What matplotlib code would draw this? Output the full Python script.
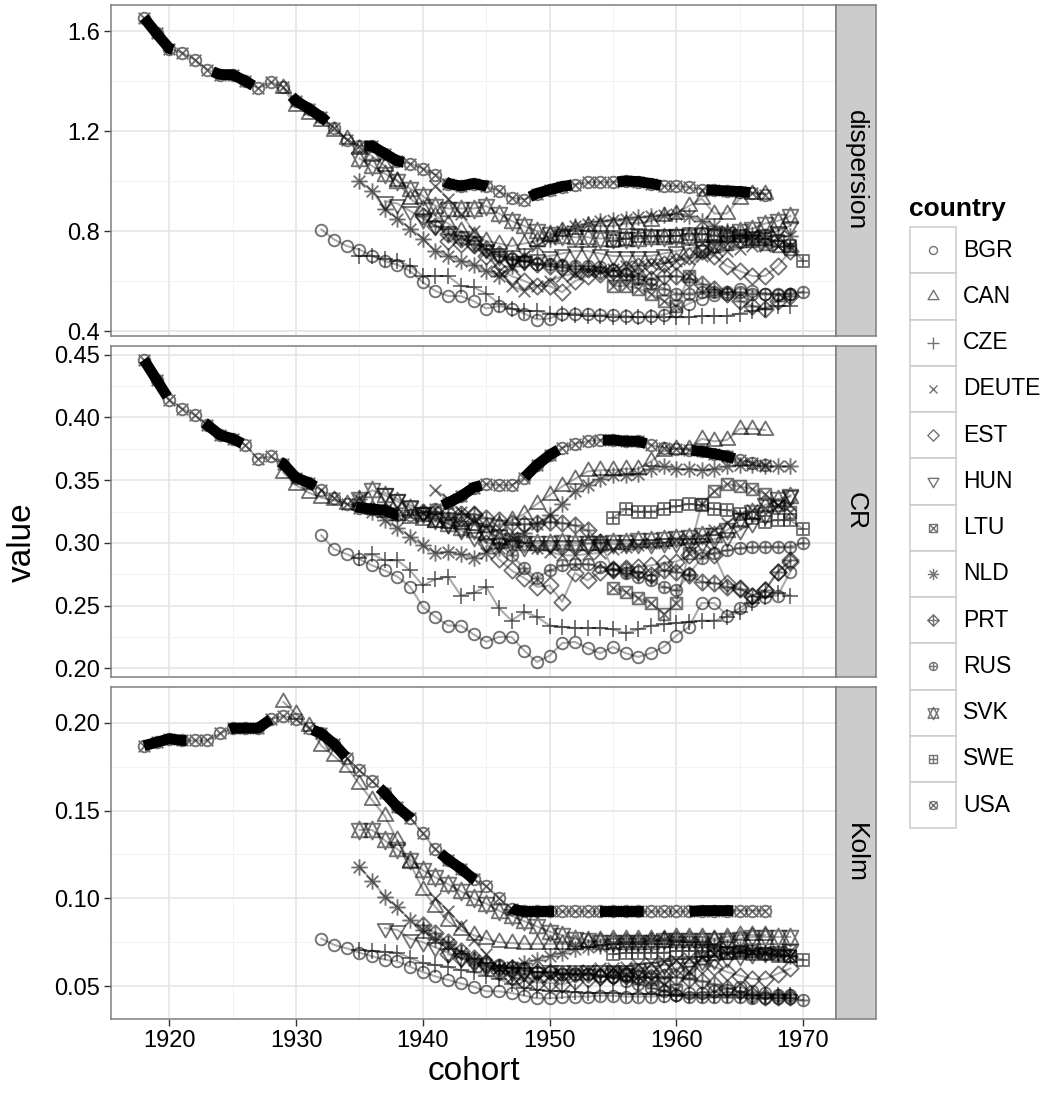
import numpy as np
import matplotlib
matplotlib.use('Agg')
import matplotlib.pyplot as plt
from matplotlib.path import Path
from matplotlib.markers import MarkerStyle
from matplotlib.patches import Rectangle

plt.rcParams['font.family'] = ['Liberation Sans', 'DejaVu Sans']
plt.rcParams['lines.scale_dashes'] = False

# ---- data ----
countries = ['BGR', 'CAN', 'CZE', 'DEUTE', 'EST', 'HUN', 'LTU',
             'NLD', 'PRT', 'RUS', 'SVK', 'SWE', 'USA']
first_cohort = [1932, 1929, 1935, 1941, 1942, 1937, 1955,
                1935, 1940, 1946, 1935, 1955, 1918]

dispersion = {
    'BGR': [.806, .766, .740, .726, .700, .680, .665, .640, .595, .560,
            .540, .540, .520, .490, .500, .490, .470, .446, .450, .470,
            .470, .468, .465, .465, .460, .455, .460, .465, .480, .510,
            .530, .545, .550, .570, .560, .550, .545, .550],
    'CAN': [1.37, 1.30, 1.27, 1.24, 1.20, 1.17, 1.13, 1.10, 1.06, 1.00,
            .93, .89, .86, .83, .80, .78, .76, .75, .74, .75,
            .76, .78, .80, .81, .82, .82, .82, .83, .83, .84,
            .86, .87, .90, .93, .87, .87, .93, .95, .95],
    'CZE': [.70, .70, .69, .68, .66, .62, .62, .62, .58, .575,
            .55, .51, .49, .48, .48, .47, .47, .465, .46, .46,
            .455, .455, .455, .455, .455, .455, .455, .46, .46, .46,
            .47, .48, .49, .50, .50],
    'DEUTE': [.98, .93, .87, .80, .72, .64, .58, .56, .58, .60,
              .62, .63, .64, .64, .65, .66, .66, .67, .67, .68,
              .69, .70, .71, .72, .73, .74, .74, .74, .74],
    'EST': [.76, .75, .745,
            .70, .65, .62, .60, .58, .58, .555, .60, .62, .63,
            .64, .65, .66, .66, .67, .68, .70, .72, .70, .66,
            .64, .62, .62, .66, .72],
    'HUN': [.92, .91, .88, .85, .82, .80, .78, .76, .73, .70,
            .68, .68, .69, .70, .71, .72, .72, .71, .70, .70,
            .70, .70, .71, .72, .73, .74, .75, .76, .77, .78,
            .79, .80, .82],
    'LTU': [.58, .58, .57, .55, .52, .50, .62, .72, .74, .75, .76, .76, .75, .74, .73],
    'NLD': [1.00, .96, .89, .85, .81, .77, .72, .70, .68, .665,
            .64, .62, .66, .70, .74, .77, .80, .82, .83, .84,
            .845, .85, .855, .86, .865, .87, .86, .84, .82, .80,
            .79, .785, .78, .78, .78],
    'PRT': [.86, .82, .79, .77, .75, .73, .71, .69, .68, .67,
            .66, .655, .65, .65, .64, .62, .62, .62, .61, .62,
            .62, .61, .59, .57, .55, .52, .50, .49, .52, .54],
    'RUS': [.70, .69, .68, .67, .67, .665, .66, .66, .655, .645,
            .63, .61, .59, .57, .55, .55, .555, .555, .555, .555,
            .55, .55, .55, .55, .556],
    'SVK': [1.09, 1.06, 1.03, 1.00, .97, .94, .90, .89, .89, .89,
            .90, .87, .84, .82, .80, .79, .78, .775, .775, .77,
            .77, .77, .77, .775, .775, .78, .78, .785, .785, .79,
            .80, .81, .83, .84, .86],
    'SWE': [.76, .77, .78, .78, .78, .78, .79, .79, .78, .78, .78, .77, .77, .76, .74, .68],
    'USA': [1.653, 1.59, 1.53, 1.513, 1.486, 1.446, 1.426, 1.425, 1.40, 1.37,
            1.396, 1.376, 1.32, 1.29, 1.255, 1.214, 1.166, 1.14, 1.14, 1.11,
            1.08, 1.07, 1.05, 1.026, .99, .98, .99, .98, .96, .933,
            .926, .95, .965, .978, .986, .995, .995, .995, 1.0, .998,
            .99, .98, .98, .975, .966, .963, .96, .958, .953, .946],
}

cr = {
    'BGR': [.306, .295, .291, .287, .282, .278, .273, .265, .249, .241,
            .234, .234, .227, .221, .225, .225, .214, .205, .210, .220,
            .221, .216, .212, .217, .212, .209, .212, .217, .226, .233,
            .252, .252, .242, .248, .254, .257, .258, .277],
    'CAN': [.356, .346, .340, .336, .334, .331, .330, .327, .325, .322,
            .320, .318, .317, .316, .315, .314, .313, .314, .318, .323,
            .331, .338, .345, .351, .357, .358, .358, .359, .359, .365,
            .373, .375, .375, .383, .381, .382, .391, .391, .390],
    'CZE': [.288, .291, .286, .286, .278, .266, .271, .273, .258, .260,
            .265, .248, .238, .245, .241, .234, .233, .232, .232, .232,
            .231, .228, .231, .234, .235, .236, .237, .238, .238, .241,
            .245, .252, .257, .260, .258],
    'DEUTE': [.342, .335, .325, .318, .312, .308, .305, .300, .296, .293,
              .290, .290, .291, .292, .295, .297, .298, .300, .300, .302,
              .303, .305, .310, .316, .322, .326, .328, .330, .330],
    'EST': [.318, .320, .322,
            .300, .287, .278, .272, .265, .266, .253, .276, .270, .277,
            .279, .280, .281, .282, .284, .285, .290, .295, .290, .268,
            .264, .258, .262, .277, .285],
    'HUN': [.340, .335, .330, .325, .320, .315, .310, .305, .300, .300,
            .298, .297, .298, .298, .298, .298, .299, .299, .299, .299,
            .299, .299, .300, .300, .300, .300, .303, .305, .310, .316,
            .322, .330, .338],
    'LTU': [.264, .261, .256, .252, .243, .252, .292, .331, .341, .347,
            .345, .343, .339, .330, .325],
    'NLD': [.335, .325, .318, .312, .305, .298, .292, .293, .291, .288,
            .292, .296, .302, .308, .315, .322, .331, .341, .346, .351,
            .354, .354, .355, .359, .361, .359, .359, .358, .359, .361,
            .362, .362, .361, .361, .361],
    'PRT': [.325, .325, .324, .323, .323, .320, .318, .316, .315, .316,
            .317, .316, .314, .310, .301, .278, .278, .277, .274, .278,
            .277, .274, .269, .268, .265, .263, .258, .262, .277, .286],
    'RUS': [.300, .290, .280, .272, .278, .282, .283, .283, .281, .279,
            .276, .273, .270, .265, .262, .275, .288, .292, .294, .296,
            .297, .297, .297, .297, .300],
    'SVK': [.335, .342, .338, .333, .328, .323, .318, .315, .312, .310,
            .308, .305, .302, .300, .300, .300, .301, .300, .300, .300,
            .301, .301, .302, .302, .303, .304, .305, .306, .306, .310,
            .318, .325, .330, .335, .337],
    'SWE': [.320, .327, .325, .325, .327, .329, .331, .330, .327, .326,
            .323, .320, .317, .318, .318, .311],
    'USA': [.446, .430, .414, .407, .402, .394, .386, .383, .378, .367,
            .369, .363, .352, .348, .342, .336, .331, .328, .327, .326,
            .322, .322, .324, .327, .332, .337, .344, .347, .346, .346,
            .352, .362, .370, .376, .379, .381, .382, .382, .381, .381,
            .378, .376, .375, .374, .373, .371, .369, .366, .364, .362],
}

kolm = {
    'BGR': [.077, .0735, .0715, .069, .067, .065, .064, .061, .058, .0555,
            .0535, .0515, .0497, .047, .047, .046, .0445, .043, .043, .0435,
            .044, .044, .0445, .0445, .044, .044, .044, .0445, .045, .046,
            .046, .047, .048, .0497, .047, .046, .045, .045],
    'CAN': [.212, .205, .198, .187, .181, .175, .165, .156, .147, .133,
            .120, .105, .095, .087, .082, .079, .077, .075, .0745, .074,
            .074, .074, .074, .074, .075, .076, .077, .077, .077, .077,
            .077, .078, .078, .078, .077, .078, .079, .079, .079],
    'CZE': [.0705, .070, .0695, .069, .066, .063, .062, .061, .059, .058,
            .056, .054, .051, .049, .048, .047, .047, .0465, .046, .046,
            .046, .0455, .0455, .0455, .045, .045, .045, .045, .045, .045,
            .045, .045, .045, .045, .045],
    'DEUTE': [.100, .093, .085, .076, .068, .060, .055, .054, .055, .056,
              .057, .058, .059, .060, .060, .061, .062, .063, .064, .065,
              .066, .067, .068, .068, .069, .069, .070, .070, .070],
    'EST': [.068, .066, .064,
            .062, .058, .055, .053, .052, .052, .051, .053, .054, .055,
            .056, .057, .058, .058, .059, .060, .061, .062, .061, .058,
            .056, .054, .054, .057, .060],
    'HUN': [.083, .082, .077, .075, .072, .069, .066, .063, .061, .059,
            .058, .058, .058, .059, .059, .059, .059, .059, .059, .059,
            .060, .061, .062, .063, .063, .064, .065, .066, .067, .068,
            .069, .070, .071],
    'LTU': [.058, .057, .056, .054, .051, .048, .058, .066, .068, .069,
            .070, .070, .069, .068, .067],
    'NLD': [.118, .110, .101, .095, .0877, .082, .077, .074, .069, .065,
            .062, .060, .061, .063, .065, .067, .069, .071, .072, .073,
            .074, .075, .075, .076, .076, .076, .075, .074, .073, .072,
            .071, .070, .069, .068, .067],
    'PRT': [.085, .080, .075, .070, .066, .063, .061, .060, .059, .058,
            .058, .057, .057, .057, .056, .056, .056, .055, .055, .055,
            .055, .054, .053, .051, .049, .047, .045, .044, .044, .044],
    'RUS': [.062, .061, .060, .058, .058, .057, .057, .057, .056, .055,
            .053, .051, .049, .047, .045, .044, .044, .044, .0435, .0435,
            .043, .043, .043, .043, .042],
    'SVK': [.139, .139, .133, .128, .122, .116, .112, .108, .104, .100,
            .097, .093, .090, .087, .084, .081, .079, .077, .076, .075,
            .075, .075, .075, .075, .076, .076, .076, .076, .076, .076,
            .077, .078, .078, .078, .078],
    'SWE': [.068, .069, .069, .069, .069, .070, .070, .070, .070, .069,
            .069, .068, .068, .067, .067, .065],
    'USA': [.187, .189, .191, .190, .190, .190, .194, .197, .197, .197,
            .202, .204, .202, .197, .194, .188, .180, .173, .167, .160,
            .152, .146, .137, .128, .122, .117, .111, .107, .100, .094,
            .0925, .0925, .0925, .0925, .0925, .0925, .0925, .0925, .0925, .0925,
            .0925, .0925, .0925, .0925, .093, .093, .093, .093, .093, .093],
}

x_ticks = [1920, 1930, 1940, 1950, 1960, 1970]

# ---- R-like point shapes (pch 1..13) ----
T0 = 1.5551
S2 = np.sqrt(2)

def closed(pts):
    return Path(list(pts) + [pts[0]],
                [Path.MOVETO] + [Path.LINETO] * (len(pts) - 1) + [Path.CLOSEPOLY])

def segs(*pairs):
    verts, codes = [], []
    for a, b in pairs:
        verts += [a, b]
        codes += [Path.MOVETO, Path.LINETO]
    return Path(verts, codes)

ring = Path.circle((0, 0), 1.0)
tri_up = closed([(0, T0), (0.866 * T0, -0.5 * T0), (-0.866 * T0, -0.5 * T0)])
tri_dn = closed([(0, -T0), (0.866 * T0, 0.5 * T0), (-0.866 * T0, 0.5 * T0)])
square = closed([(-1, -1), (1, -1), (1, 1), (-1, 1)])
diamond = closed([(0, S2), (S2, 0), (0, -S2), (-S2, 0)])
cross1 = segs(((-1, -1), (1, 1)), ((-1, 1), (1, -1)))
plus1 = segs(((-1, 0), (1, 0)), ((0, -1), (0, 1)))
plus2 = segs(((-S2, 0), (S2, 0)), ((0, -S2), (0, S2)))
star_a = closed([(0, -T0), (0.866 * T0, 0.75 * T0), (-0.866 * T0, 0.75 * T0)])
star_b = closed([(0, T0), (0.866 * T0, -0.75 * T0), (-0.866 * T0, -0.75 * T0)])
cp = Path.make_compound_path
shapes = {
    'BGR': ring,
    'CAN': tri_up,
    'CZE': plus2,
    'DEUTE': cross1,
    'EST': diamond,
    'HUN': tri_dn,
    'LTU': cp(square, cross1),
    'NLD': cp(cross1, plus2),
    'PRT': cp(diamond, plus2),
    'RUS': cp(ring, plus1),
    'SVK': cp(star_a, star_b),
    'SWE': cp(square, plus1),
    'USA': cp(ring, cross1),
}

DPI = 100
def msize(path, r_px):
    return 2 * np.abs(path.vertices).max() * r_px * 72 / DPI

W, H = 1057, 1095
fig = plt.figure(figsize=(W / DPI, H / DPI), dpi=DPI)

def px_axes(x0, y0, x1, y1, **kw):
    return fig.add_axes([x0 / W, 1 - y1 / H, (x1 - x0) / W, (y1 - y0) / H], **kw)

panels = [
    ('dispersion', dispersion, (5, 336), (0.38, 1.704),
     [0.4, 0.8, 1.2, 1.6], [0.6, 1.0, 1.4], '%.1f'),
    ('CR', cr, (346, 677), (0.193, 0.457),
     [0.20, 0.25, 0.30, 0.35, 0.40, 0.45], [0.225, 0.275, 0.325, 0.375, 0.425], '%.2f'),
    ('Kolm', kolm, (687, 1019), (0.0312, 0.2205),
     [0.05, 0.10, 0.15, 0.20], [0.075, 0.125, 0.175], '%.2f'),
]

point_col = (0, 0, 0, 0.55)
line_col = (0, 0, 0, 0.33)

for i, (name, data, (y0, y1), ylim, yt, ymt, fmt) in enumerate(panels):
    ax = px_axes(111, y0, 836, y1)
    ax.set_xlim(1915.4, 1972.6)
    ax.set_ylim(*ylim)
    ax.set_xticks(x_ticks)
    ax.set_xticks([1925, 1935, 1945, 1955, 1965], minor=True)
    ax.set_yticks(yt)
    ax.set_yticks(ymt, minor=True)
    ax.set_yticklabels([fmt % v for v in yt])
    ax.grid(True, which='major', color='#e5e5e5', lw=1.2, zorder=0)
    ax.grid(True, which='minor', color='#f2f2f2', lw=0.7, zorder=0)
    ax.set_axisbelow(True)
    for s in ax.spines.values():
        s.set_color('#7f7f7f')
        s.set_linewidth(1.1)
    ax.tick_params(which='major', direction='out', length=5, width=1.0,
                   color='#333333', labelsize=17, pad=3, labelcolor='black')
    ax.tick_params(which='minor', length=0)
    if i < 2:
        ax.tick_params(axis='x', which='both', length=0, labelbottom=False)

    for c, fy in zip(countries, first_cohort):
        v = data[c]
        yrs = np.arange(fy, fy + len(v))
        ax.plot(yrs, v, color=line_col, lw=1.5, zorder=2)
    for c, fy in zip(countries, first_cohort):
        v = data[c]
        yrs = np.arange(fy, fy + len(v))
        ax.plot(yrs, v, ls='none', marker=MarkerStyle(shapes[c]),
                ms=msize(shapes[c], 5.8), mfc='none', mec=point_col, mew=1.35, zorder=3)
    v = data['USA']
    yrs = np.arange(first_cohort[-1], first_cohort[-1] + len(v))
    ax.plot(yrs, v, color='black', lw=7.8, ls=(0, (31.5, 33)),
            dash_capstyle='butt', dash_joinstyle='round', zorder=4)

    st = px_axes(836, y0, 876, y1)
    st.set_facecolor('#cccccc')
    st.set_xticks([])
    st.set_yticks([])
    for s in st.spines.values():
        s.set_color('#7f7f7f')
        s.set_linewidth(1.1)
    st.text(0.5, 0.5, name, rotation=270, ha='center', va='center',
            fontsize=19, transform=st.transAxes)

    if i == 2:
        ax.set_xlabel('cohort', fontsize=24, labelpad=3)

fig.text(22 / W, 1 - 542 / H, 'value', rotation=90, ha='center', va='center', fontsize=24)

# ---- legend ----
lg = fig.add_axes([0, 0, 1, 1], zorder=10)
lg.set_xlim(0, W)
lg.set_ylim(H, 0)
lg.axis('off')
lg.text(909, 209, 'country', fontsize=19, fontweight='bold', ha='left', va='center')
key_h = 46.25
for k, c in enumerate(countries):
    top = 227 + k * key_h
    lg.add_patch(Rectangle((910, top), 46, key_h, facecolor='white',
                           edgecolor='#cccccc', lw=1.1))
    lg.plot([933], [top + key_h / 2], ls='none', marker=MarkerStyle(shapes[c]),
            ms=msize(shapes[c], 4.0), mfc='none', mec=point_col, mew=1.0)
    lg.text(963, top + key_h / 2, c, fontsize=16.5, ha='left', va='center')

fig.savefig('out.png', dpi=DPI)
